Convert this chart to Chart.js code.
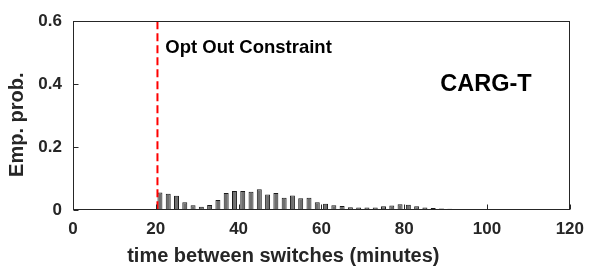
<!DOCTYPE html>
<html>
<head>
<meta charset="utf-8">
<script src="https://cdn.jsdelivr.net/npm/chart.js@4.4.1/dist/chart.umd.min.js"></script>
<style>
  html, body { margin: 0; padding: 0; background: #fff; }
  #wrap { width: 593px; height: 268px; position: relative; }
</style>
</head>
<body>
<div id="wrap"><canvas id="c" width="593" height="268"></canvas></div>
<script>
// ---- data ----
const binCenters = [17, 19, 21, 23, 25, 27, 29, 31, 33, 35, 37, 39, 41, 43, 45, 47, 49, 51, 53, 55,
  57, 59, 61, 63, 65, 67, 69, 71, 73, 75, 77, 79, 81, 83, 85, 87, 89, 91, 93, 95,
  97, 99, 101, 103, 105, 107, 109, 111, 113, 115];
const empProb = [0.001, 0.001, 0.056, 0.052, 0.045, 0.025, 0.015, 0.010, 0.016, 0.032, 0.054, 0.060, 0.060, 0.058, 0.066, 0.049, 0.054, 0.039, 0.046, 0.037,
  0.039, 0.025, 0.020, 0.015, 0.013, 0.009, 0.008, 0.008, 0.008, 0.012, 0.014, 0.018, 0.017, 0.012, 0.008, 0.006, 0.005, 0.004, 0.003, 0.003,
  0.002, 0.002, 0.002, 0.002, 0.002, 0.002, 0.002, 0.001, 0.001, 0.001];
const xTicks = [0, 20, 40, 60, 80, 100, 120];
const yTicks = [0, 0.2, 0.4, 0.6];
const constraintX = 20.4;
const constraintLabel = 'Opt Out Constraint';
const methodLabel = 'CARG-T';
const xTitle = 'time between switches (minutes)';
const yTitle = 'Emp. prob.';

const AX = '#262626';
const FONT = 'Liberation Sans, Arial, Helvetica, sans-serif';

const frame = {
  id: 'frame',
  afterDatasetsDraw(chart) {
    const { ctx, scales: { x, y } } = chart;
    ctx.save();
    ctx.strokeStyle = '#ff0000';
    ctx.lineWidth = 2;
    ctx.setLineDash([8, 4]);
    const px = x.getPixelForValue(constraintX);
    ctx.beginPath();
    ctx.moveTo(px, y.getPixelForValue(0.6));
    ctx.lineTo(px, y.getPixelForValue(0));
    ctx.stroke();
    ctx.restore();
  },
  afterDraw(chart) {
    const { ctx, chartArea: a, scales: { x, y } } = chart;
    ctx.save();
    ctx.strokeStyle = AX;
    ctx.lineWidth = 1;
    const L = Math.round(a.left) + 0.5, R = Math.round(a.right) - 0.5;
    const T = Math.round(a.top) + 0.5, B = Math.round(a.bottom) - 0.5;
    ctx.strokeRect(L, T, R - L, B - T);
    const tl = 5;
    ctx.beginPath();
    xTicks.forEach(v => {
      const p = Math.round(x.getPixelForValue(v)) + 0.5;
      ctx.moveTo(p, B); ctx.lineTo(p, B - tl);
    });
    yTicks.forEach(v => {
      const p = Math.round(y.getPixelForValue(v)) + 0.5;
      ctx.moveTo(L, p); ctx.lineTo(L + tl, p);
    });
    ctx.stroke();
    // annotations
    ctx.fillStyle = '#000';
    ctx.textBaseline = 'middle';
    ctx.textAlign = 'left';
    ctx.font = 'bold 18.5px ' + FONT;
    ctx.fillText(constraintLabel, x.getPixelForValue(22.3), y.getPixelForValue(0.514));
    ctx.font = 'bold 23.5px ' + FONT;
    ctx.fillText(methodLabel, x.getPixelForValue(88.7), y.getPixelForValue(0.398));
    // axis titles
    ctx.fillStyle = '#262626';
    ctx.textAlign = 'center';
    ctx.font = 'bold 20px ' + FONT;
    ctx.fillText(xTitle, x.getPixelForValue(50.8), 256);
    ctx.save();
    ctx.translate(17, y.getPixelForValue(0.271));
    ctx.rotate(-Math.PI / 2);
    ctx.fillText(yTitle, 0, 0);
    ctx.restore();
    ctx.restore();
  }
};

new Chart(document.getElementById('c'), {
  type: 'bar',
  data: {
    datasets: [{
      data: binCenters.map((c, i) => ({ x: c, y: empProb[i] })),
      backgroundColor: '#6f6f6f',
      borderColor: '#1a1a1a',
      borderWidth: 1,
      barPercentage: 0.6,
      categoryPercentage: 1.0
    }]
  },
  options: {
    responsive: false,
    animation: false,
    layout: { padding: { left: 0, right: 22, top: 14, bottom: 0 } },
    plugins: { legend: { display: false }, tooltip: { enabled: false } },
    scales: {
      x: {
        type: 'linear',
        min: 0, max: 120,
        offset: false,
        afterBuildTicks(s) { s.ticks = xTicks.map(v => ({ value: v })); },
        afterFit(s) { s.height = 58; },
        grid: { display: false, drawTicks: false },
        border: { display: false },
        ticks: { color: '#262626', padding: 9, maxRotation: 0, autoSkip: false,
          font: { family: FONT, size: 17, weight: 'bold' } },
        title: { display: false }
      },
      y: {
        min: 0, max: 0.6,
        afterBuildTicks(s) { s.ticks = yTicks.map(v => ({ value: v })); },
        afterFit(s) { s.width = 73; },
        grid: { display: false, drawTicks: false },
        border: { display: false },
        ticks: { color: '#262626', padding: 11,
          font: { family: FONT, size: 17, weight: 'bold' },
          callback: v => (v === 0 ? '0' : v.toFixed(1)) },
        title: { display: false }
      }
    }
  },
  plugins: [frame]
});
</script>
</body>
</html>
